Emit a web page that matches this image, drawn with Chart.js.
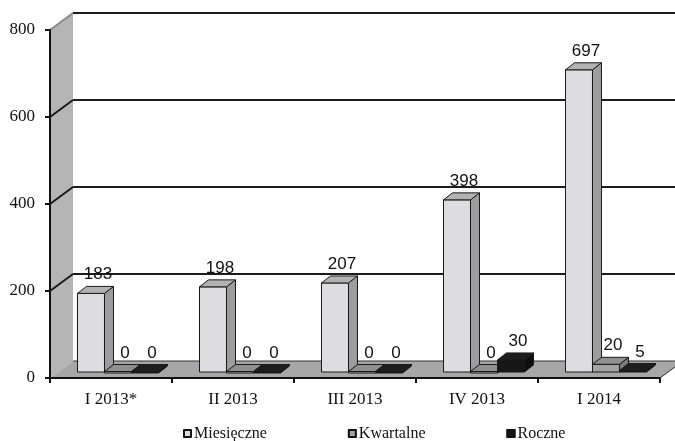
<!DOCTYPE html>
<html>
<head>
<meta charset="utf-8">
<script src="https://cdn.jsdelivr.net/npm/chart.js@4.4.1/dist/chart.umd.min.js"></script>
<style>
  html, body { margin: 0; padding: 0; background: #fff; }
  #wrap { width: 675px; height: 441px; }
</style>
</head>
<body>
<div id="wrap"><canvas id="chart" width="675" height="441"></canvas></div>
<script>
// data
const categories = ["I 2013*", "II 2013", "III 2013", "IV 2013", "I 2014"];
const seriesNames = ["Miesięczne", "Kwartalne", "Roczne"];
const monthly = [183, 198, 207, 398, 697];
const quarterly = [0, 0, 0, 0, 20];
const yearly = [0, 0, 0, 30, 5];
const yTicks = [0, 200, 400, 600, 800];

// look
const SERIF = '"Liberation Serif", "Times New Roman", serif';
const SANS = '"Liberation Sans", Arial, sans-serif';
const faces = [
  { front: "#dddddf", top: "#b2b2b2", side: "#9d9d9d" },
  { front: "#a3a3a3", top: "#8f8f8f", side: "#7b7b7b" },
  { front: "#161616", top: "#1e1e1e", side: "#0e0e0e" }
];
const WALL = { dx: 23, dy: -17 };   // full depth of the box
const PLANE = { dx: 7, dy: -5 };    // where the bars stand
const DEPTH = { dx: 9, dy: -7 };    // depth of one bar

// walls, floor and back gridlines
const backdrop = {
  id: "backdrop",
  beforeDraw(chart) {
    const { ctx, chartArea: a, scales: { y } } = chart;
    const y0 = y.getPixelForValue(0);
    const yTop = y.getPixelForValue(yTicks[yTicks.length - 1]);
    ctx.save();
    // left wall
    ctx.fillStyle = "#b5b5b5";
    ctx.beginPath();
    ctx.moveTo(a.left, yTop);
    ctx.lineTo(a.left + WALL.dx, yTop + WALL.dy);
    ctx.lineTo(a.left + WALL.dx, y0 + WALL.dy);
    ctx.lineTo(a.left, y0);
    ctx.closePath();
    ctx.fill();
    // floor
    ctx.fillStyle = "#a7a7a7";
    ctx.beginPath();
    ctx.moveTo(a.left, y0);
    ctx.lineTo(a.left + WALL.dx, y0 + WALL.dy);
    ctx.lineTo(a.right + WALL.dx, y0 + WALL.dy);
    ctx.lineTo(a.right, y0);
    ctx.closePath();
    ctx.fill();
    ctx.strokeStyle = "#333";
    ctx.lineWidth = 1;
    ctx.beginPath();
    ctx.moveTo(a.left + WALL.dx, y0 + WALL.dy);
    ctx.lineTo(a.right + WALL.dx, y0 + WALL.dy);
    ctx.moveTo(a.right, y0);
    ctx.lineTo(a.right + WALL.dx, y0 + WALL.dy);
    ctx.stroke();
    // gridlines
    yTicks.slice(1).forEach((v, i, arr) => {
      const py = y.getPixelForValue(v);
      const last = i === arr.length - 1;
      ctx.lineWidth = 2;
      ctx.strokeStyle = last ? "#8a8a8a" : "#1c1c1c";
      ctx.beginPath();
      ctx.moveTo(a.left, py);
      ctx.lineTo(a.left + WALL.dx, py + WALL.dy);
      ctx.stroke();
      ctx.strokeStyle = "#1c1c1c";
      ctx.beginPath();
      ctx.moveTo(a.left + WALL.dx, py + WALL.dy);
      ctx.lineTo(a.right + WALL.dx, py + WALL.dy);
      ctx.stroke();
    });
    ctx.restore();
  }
};

function poly(ctx, pts, fill) {
  ctx.beginPath();
  ctx.moveTo(pts[0][0], pts[0][1]);
  pts.slice(1).forEach(p => ctx.lineTo(p[0], p[1]));
  ctx.closePath();
  ctx.fillStyle = fill;
  ctx.fill();
  ctx.stroke();
}

// 3d boxes, value labels and legend
const boxes = {
  id: "boxes",
  beforeDatasetsDraw() { return false; },
  afterDraw(chart) {
    const { ctx } = chart;
    ctx.save();
    ctx.lineWidth = 1;
    ctx.strokeStyle = "#1a1a1a";
    ctx.lineJoin = "round";
    const labels = [];
    categories.forEach((c, j) => {
      chart.data.datasets.forEach((ds, i) => {
        const bar = chart.getDatasetMeta(i).data[j];
        const f = faces[i];
        const l = bar.x - bar.width / 2 + PLANE.dx;
        const r = bar.x + bar.width / 2 + PLANE.dx;
        const b = bar.base + PLANE.dy;
        const t = Math.min(bar.y + PLANE.dy, b - 1.5);
        const dx = DEPTH.dx, dy = DEPTH.dy;
        poly(ctx, [[l, t], [r, t], [r, b], [l, b]], f.front);
        poly(ctx, [[r, t], [r + dx, t + dy], [r + dx, b + dy], [r, b]], f.side);
        poly(ctx, [[l, t], [l + dx, t + dy], [r + dx, t + dy], [r, t]], f.top);
        labels.push({ x: (l + r) / 2 + 7, y: t - 14, text: String(ds.data[j]) });
      });
    });
    ctx.fillStyle = "#111";
    ctx.font = "17px " + SANS;
    ctx.textAlign = "center";
    ctx.textBaseline = "alphabetic";
    labels.forEach(lb => ctx.fillText(lb.text, lb.x, lb.y));

    // legend
    ctx.font = "16px " + SERIF;
    ctx.textAlign = "left";
    ctx.textBaseline = "alphabetic";
    let x = 183;
    const base = 438;
    seriesNames.forEach((name, i) => {
      ctx.fillStyle = faces[i].front;
      ctx.fillRect(x, base - 9, 9, 9);
      ctx.lineWidth = 2;
      ctx.strokeStyle = "#111";
      ctx.strokeRect(x + 1, base - 8, 7, 7);
      ctx.fillStyle = "#111";
      ctx.fillText(name, x + 11, base);
      x += 11 + ctx.measureText(name).width + 81;
    });
    ctx.restore();
  }
};

const ctx = document.getElementById("chart").getContext("2d");
const chart = new Chart(ctx, {
  type: "bar",
  data: {
    labels: categories,
    datasets: [
      { label: seriesNames[0], data: monthly, backgroundColor: faces[0].front },
      { label: seriesNames[1], data: quarterly, backgroundColor: faces[1].front },
      { label: seriesNames[2], data: yearly, backgroundColor: faces[2].front }
    ]
  },
  options: {
    responsive: false,
    animation: false,
    devicePixelRatio: 1,
    layout: { padding: { top: 30, right: 15, bottom: 0, left: 0 } },
    datasets: { bar: { categoryPercentage: 0.664, barPercentage: 1 } },
    plugins: { legend: { display: false }, tooltip: { enabled: false } },
    scales: {
      x: {
        afterFit: s => { s.height = 63; },
        grid: { offset: true, drawOnChartArea: false, drawTicks: true, tickLength: 5, color: "#111", lineWidth: 2 },
        border: { display: true, color: "#111", width: 2 },
        ticks: { color: "#111", font: { family: SERIF, size: 17 }, padding: 6, maxRotation: 0 }
      },
      y: {
        min: 0,
        max: 800,
        afterFit: s => { s.width = 50; },
        afterBuildTicks: s => { s.ticks = yTicks.map(v => ({ value: v })); },
        grid: { drawOnChartArea: false, drawTicks: true, tickLength: 5, color: "#111", lineWidth: 2 },
        border: { display: true, color: "#111", width: 2 },
        ticks: { color: "#111", font: { family: SERIF, size: 17 }, padding: 10 }
      }
    }
  },
  plugins: [backdrop, boxes]
});
</script>
</body>
</html>
